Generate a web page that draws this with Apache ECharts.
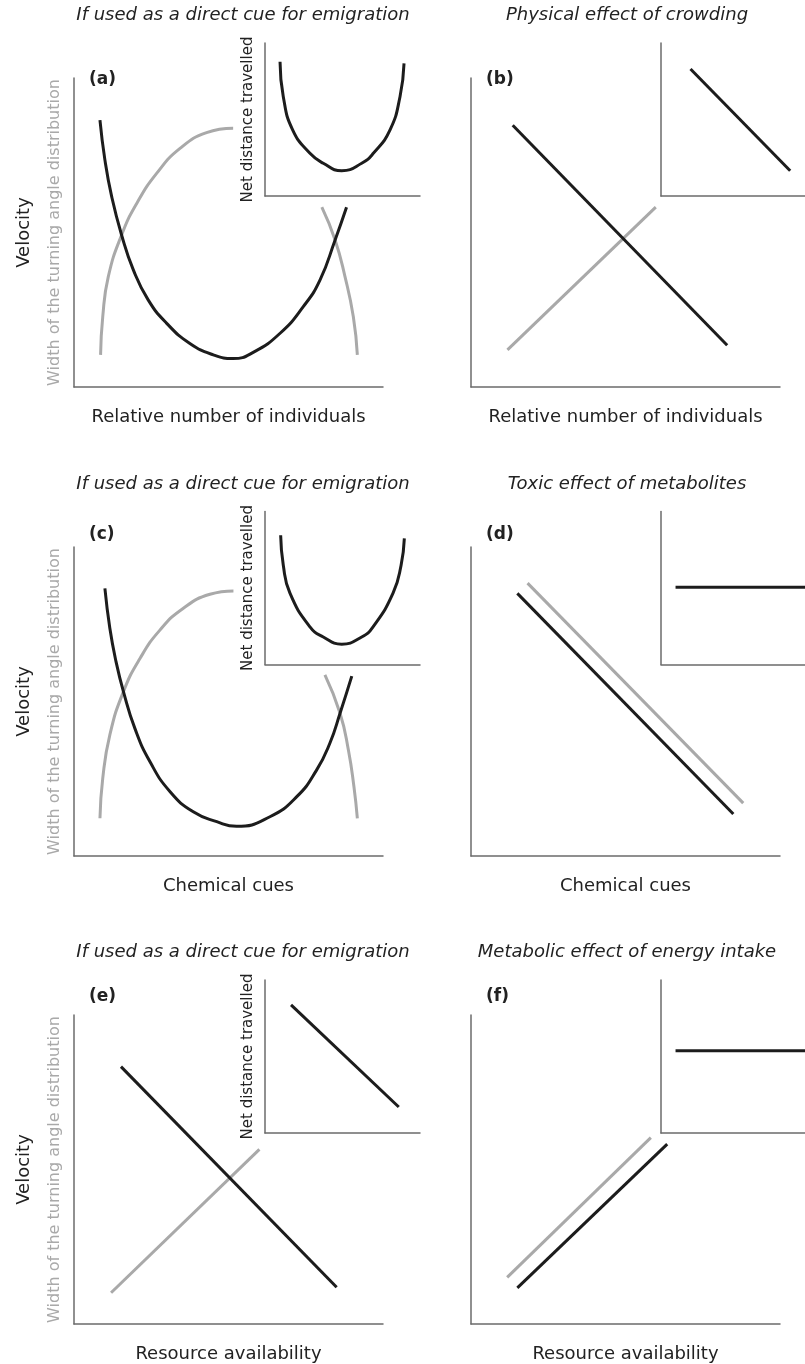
<!DOCTYPE html>
<html>
<head>
<meta charset="utf-8">
<title>Movement responses to density, chemical cues and resources</title>
<script src="https://cdn.jsdelivr.net/npm/echarts@6/dist/echarts.min.js"></script>
<style>
  html, body { margin: 0; padding: 0; background: #fff; }
  #chart { width: 805px; height: 1364px; }
</style>
</head>
<body>
<div id="chart"></div>
<script>
// conceptual curves, every axis runs 0..100 (no ticks in the figure)
var panelLabels = ['(a)', '(b)', '(c)', '(d)', '(e)', '(f)']
var panelTitles = [
  'If used as a direct cue for emigration', 'Physical effect of crowding',
  'If used as a direct cue for emigration', 'Toxic effect of metabolites',
  'If used as a direct cue for emigration', 'Metabolic effect of energy intake'
]
var xNames = [
  'Relative number of individuals', 'Relative number of individuals',
  'Chemical cues', 'Chemical cues',
  'Resource availability', 'Resource availability'
]
var velocityName = 'Velocity'
var widthName = 'Width of the turning angle distribution'
var insetName = 'Net distance travelled'

// (a) relative number of individuals, cue for emigration
var aVelocity = [[8.4, 86.4], [10.0, 73.5], [12.2, 61.6], [15.4, 49.2], [19.2, 37.9], [24.0, 28.2],
  [30.0, 20.6], [37.5, 14.1], [45.1, 10.4], [51.5, 9.2], [58.0, 11.2], [66.7, 17.4], [74.2, 26.0],
  [79.6, 34.6], [84.5, 47.6], [88.2, 58.2]]
// grey curve is hidden behind the inset around its peak
var aWidthLow = [[8.6, 10.4], [9.3, 22.7], [11.1, 35.7], [15.4, 49.2], [20.3, 59.4], [26.8, 69.2],
  [34.3, 77.2], [42.9, 82.3], [51.5, 83.7]]
var aWidthHigh = [[80.2, 58.2], [84.5, 47.6], [87.7, 35.7], [90.4, 22.7], [91.7, 10.4]]
var aInset = [[9.7, 87.8], [11.8, 64.9], [17.9, 43.1], [29.0, 27.9], [37.6, 21.4], [49.5, 16.5],
  [62.4, 21.4], [69.9, 27.9], [80.6, 43.1], [87.1, 64.9], [89.7, 86.7]]

// (b) physical effect of crowding
var bVelocity = [[13.5, 84.7], [82.9, 13.5]]
var bWidth = [[11.8, 12.0], [59.8, 58.2]]
var bInset = [[20.5, 83.0], [89.7, 16.5]]

// (c) chemical cues, cue for emigration
var cVelocity = [[10.0, 86.6], [11.6, 73.7], [13.6, 62.9], [16.0, 53.2], [19.7, 41.3], [24.6, 30.5],
  [31.1, 20.8], [38.6, 14.3], [46.2, 11.1], [52.6, 9.6], [63.4, 12.7], [72.1, 19.2], [78.5, 27.8],
  [82.8, 36.5], [86.1, 46.2], [89.9, 58.2]]
var cWidthLow = [[8.4, 12.2], [9.3, 25.1], [11.6, 39.2], [16.0, 53.2], [21.4, 64.0], [27.8, 73.1],
  [35.4, 80.2], [44.0, 84.7], [51.6, 85.8]]
var cWidthHigh = [[81.2, 58.6], [86.1, 46.2], [88.8, 34.3], [90.6, 22.4], [91.7, 12.2]]
var cInset = [[10.1, 84.5], [11.8, 64.9], [16.1, 46.6], [29.0, 24.6], [37.6, 18.0], [49.5, 13.3],
  [62.4, 18.0], [69.7, 24.6], [82.6, 46.6], [87.8, 64.9], [89.9, 82.4]]

// (d) toxic effect of metabolites
var dVelocity = [[15.0, 85.0], [84.9, 13.6]]
var dWidth = [[18.3, 88.3], [88.1, 17.1]]
var dInset = [[10.1, 50.5], [100, 50.5]]

// (e) resource availability, cue for emigration
var eVelocity = [[15.2, 83.3], [85.0, 11.9]]
var eWidth = [[12.0, 10.1], [60.0, 56.5]]
var eInset = [[16.8, 83.7], [86.3, 17.0]]

// (f) metabolic effect of energy intake
var fVelocity = [[15.0, 11.7], [63.5, 58.2]]
var fWidth = [[11.7, 15.1], [58.2, 60.3]]
var fInset = [[10.1, 53.8], [100, 53.8]]

var BLACK = '#1c1c1c'
var GREY = '#a9a9a9'
var AXIS = '#6b6b6b'
var TEXT = '#222'
var FONT = 'DejaVu Sans'

var colLeft = [74, 471]
var rowTop = [78, 547, 1015]
var insetLeft = [265, 661]
var insetTop = [43, 511.5, 980]
var titleX = [243, 627]
var titleY = [15, 484, 952]
var labelY = [79.5, 535, 996.5]

var chart = echarts.init(document.getElementById('chart'))

var grids = []
var xAxes = []
var yAxes = []
var series = []
var graphics = []

function axisBase(gridIndex) {
  return {
    type: 'value', gridIndex: gridIndex, min: 0, max: 100,
    axisLine: { show: true, lineStyle: { color: AXIS, width: 1.5 } },
    axisTick: { show: false }, axisLabel: { show: false }, splitLine: { show: false }
  }
}

function line(axis, data, color, smooth) {
  return {
    type: 'line', xAxisIndex: axis, yAxisIndex: axis, data: data,
    showSymbol: false, silent: true, smooth: smooth ? 0.5 : false,
    lineStyle: { color: color, width: 3 }, itemStyle: { color: color }
  }
}

for (var i = 0; i < 6; i++) {
  var col = i % 2, row = Math.floor(i / 2)
  grids.push({ left: colLeft[col], top: rowTop[row], width: 309, height: 309 })
  var xa = axisBase(i)
  xa.name = xNames[i]
  xa.nameLocation = 'middle'
  xa.nameGap = 21
  xa.nameTextStyle = { fontFamily: FONT, fontSize: 18, color: TEXT }
  xAxes.push(xa)
  var ya = axisBase(i)
  if (col === 0) {
    ya.name = velocityName
    ya.nameLocation = 'middle'
    ya.nameGap = 41
    ya.nameTextStyle = { fontFamily: FONT, fontSize: 18, color: TEXT }
  }
  yAxes.push(ya)

  graphics.push({
    type: 'text', x: titleX[col], y: titleY[row],
    style: { text: panelTitles[i], font: 'italic 18px "DejaVu Sans"', fill: TEXT,
      align: 'center', verticalAlign: 'middle' }
  })
  graphics.push({
    type: 'text', x: colLeft[col] + 15, y: labelY[row],
    style: { text: panelLabels[i], font: 'bold 17px "DejaVu Sans"', fill: TEXT,
      align: 'left', verticalAlign: 'middle' }
  })
}

for (var j = 0; j < 6; j++) {
  var c2 = j % 2, r2 = Math.floor(j / 2)
  grids.push({ left: insetLeft[c2], top: insetTop[r2], width: 155, height: 153 })
  xAxes.push(axisBase(6 + j))
  var yi = axisBase(6 + j)
  if (c2 === 0) {
    yi.name = insetName
    yi.nameLocation = 'middle'
    yi.nameGap = 9
    yi.nameTextStyle = { fontFamily: FONT, fontSize: 15, color: TEXT }
  }
  yAxes.push(yi)
}

// grey second label beside "Velocity" on the left panels
;[0, 2, 4].forEach(function (g) {
  yAxes.push({
    type: 'value', gridIndex: g, min: 0, max: 100, position: 'left',
    axisLine: { show: false }, axisTick: { show: false }, axisLabel: { show: false }, splitLine: { show: false },
    name: widthName, nameLocation: 'middle', nameGap: 11,
    nameTextStyle: { fontFamily: FONT, fontSize: 16, color: GREY }
  })
})

series.push(line(0, aWidthLow, GREY, true), line(0, aWidthHigh, GREY, true), line(0, aVelocity, BLACK, true))
series.push(line(1, bWidth, GREY), line(1, bVelocity, BLACK))
series.push(line(2, cWidthLow, GREY, true), line(2, cWidthHigh, GREY, true), line(2, cVelocity, BLACK, true))
series.push(line(3, dWidth, GREY), line(3, dVelocity, BLACK))
series.push(line(4, eWidth, GREY), line(4, eVelocity, BLACK))
series.push(line(5, fWidth, GREY), line(5, fVelocity, BLACK))
series.push(line(6, aInset, BLACK, true), line(7, bInset, BLACK))
series.push(line(8, cInset, BLACK, true), line(9, dInset, BLACK))
series.push(line(10, eInset, BLACK), line(11, fInset, BLACK))

var option = {
  backgroundColor: '#fff',
  animation: false,
  grid: grids,
  xAxis: xAxes,
  yAxis: yAxes,
  series: series,
  graphic: graphics
}
option && chart.setOption(option)
</script>
</body>
</html>
